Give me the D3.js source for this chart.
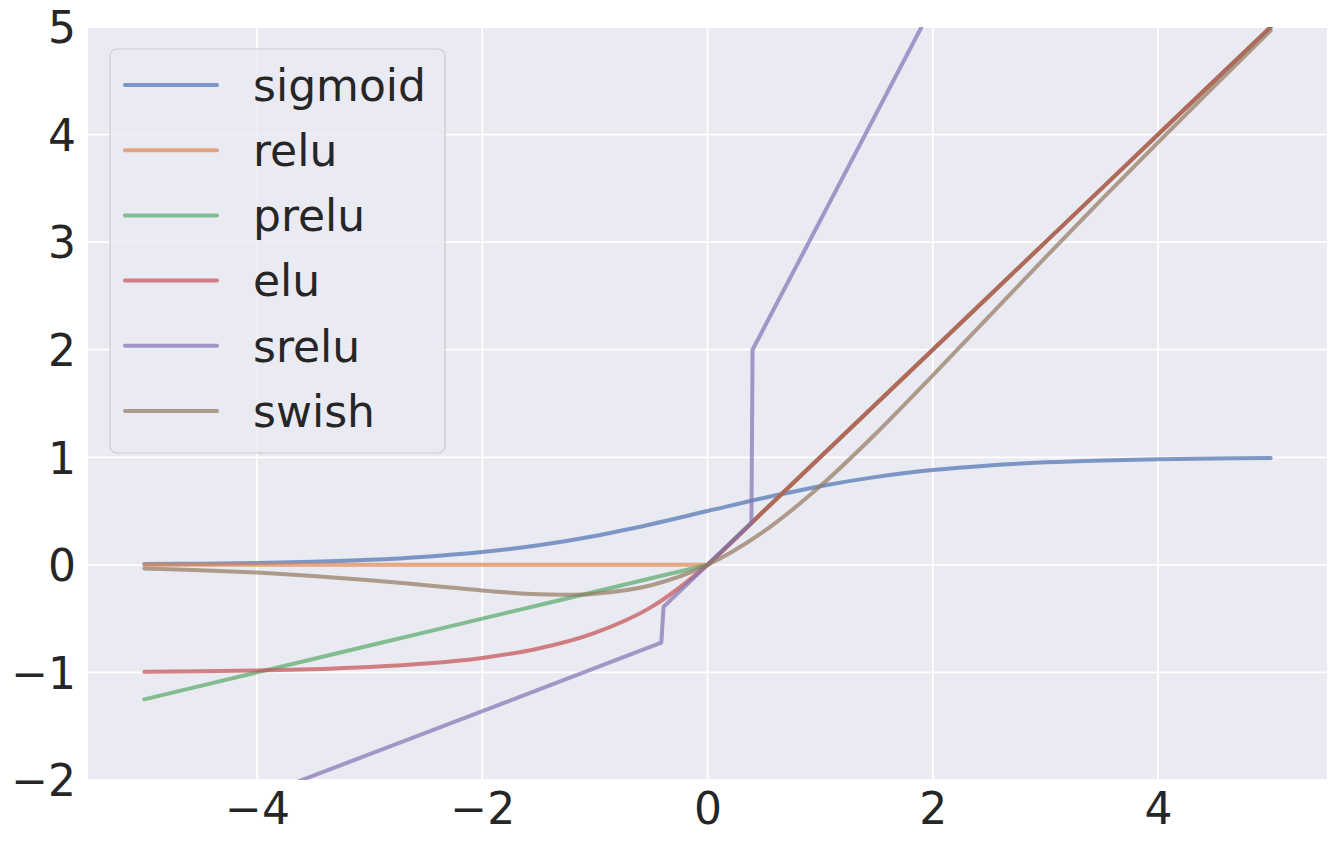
<!DOCTYPE html>
<html><head><meta charset="utf-8">
<script src="https://cdn.jsdelivr.net/npm/d3@7/dist/d3.min.js"></script>
<style>body{margin:0;background:#fff}svg{display:block}</style>
</head><body>
<svg id="c" width="1337" height="846"></svg>
<script>
const xs = [-5,-4.5,-4,-3.5,-3,-2.5,-2,-1.5,-1,-0.5,0,0.5,1,1.5,2,2.5,3,3.5,4,4.5,5];
const sigmoid = [0.007,0.011,0.018,0.029,0.047,0.076,0.119,0.182,0.269,0.378,0.5,0.622,0.731,0.818,0.881,0.924,0.953,0.971,0.982,0.989,0.993];
const relu = [0,0,0,0,0,0,0,0,0,0,0,0.5,1,1.5,2,2.5,3,3.5,4,4.5,5];
const prelu = [-1.25,-1.125,-1,-0.875,-0.75,-0.625,-0.5,-0.375,-0.25,-0.125,0,0.5,1,1.5,2,2.5,3,3.5,4,4.5,5];
const elu = [-0.993,-0.989,-0.982,-0.970,-0.950,-0.918,-0.865,-0.777,-0.632,-0.393,0,0.5,1,1.5,2,2.5,3,3.5,4,4.5,5];
const swishX = [-5,-4.5,-4,-3.5,-3,-2.5,-2,-1.5,-1.25,-1,-0.5,0,0.5,1,1.5,2,2.5,3,3.5,4,4.5,5];
const swish = [-0.033,-0.050,-0.072,-0.103,-0.142,-0.190,-0.238,-0.274,-0.278,-0.269,-0.189,0,0.311,0.731,1.226,1.762,2.310,2.858,3.397,3.928,4.450,4.967];
const sreluX = [-5,-0.41,-0.39,0.39,0.4,1.9,5];
const srelu = [-2.56,-0.724,-0.39,0.39,2.0,5.0,11.2];
const xTicks = [-4,-2,0,2,4];
const yTicks = [-2,-1,0,1,2,3,4,5];
const names = ["sigmoid","relu","prelu","elu","srelu","swish"];
const colors = ["#4C72B0","#DD8452","#55A868","#C44E52","#8172B3","#937860"];

const series = [
  {x: xs, y: sigmoid, curve: d3.curveCatmullRom},
  {x: xs, y: relu, curve: d3.curveLinear},
  {x: xs, y: prelu, curve: d3.curveLinear},
  {x: xs, y: elu, curve: d3.curveMonotoneX},
  {x: sreluX, y: srelu, curve: d3.curveLinear},
  {x: swishX, y: swish, curve: d3.curveCatmullRom}
];

const L = 88, R = 1327, T = 27, B = 780;
const svg = d3.select("#c");
const x = d3.scaleLinear().domain([-5.5, 5.5]).range([L, R]);
const y = d3.scaleLinear().domain([-2, 5]).range([B, T]);
const font = "'DejaVu Sans', sans-serif";

svg.append("rect").attr("x", L).attr("y", T).attr("width", R - L).attr("height", B - T).attr("fill", "#EAEAF2");
svg.append("clipPath").attr("id", "clip").append("rect").attr("x", L).attr("y", T).attr("width", R - L).attr("height", B - T);

// grid
const g = svg.append("g");
g.selectAll(".gx").data(xTicks).join("line").attr("x1", d => x(d)).attr("x2", d => x(d)).attr("y1", T).attr("y2", B)
  .attr("stroke", "#fff").attr("stroke-width", 1.8);
g.selectAll(".gy").data(yTicks).join("line").attr("y1", d => y(d)).attr("y2", d => y(d)).attr("x1", L).attr("x2", R)
  .attr("stroke", "#fff").attr("stroke-width", 1.8);

// axes labels via d3 axes
const fmt = d => (d < 0 ? "\u2212" + Math.abs(d) : "" + d);
const ax = svg.append("g").attr("transform", `translate(0,${B})`).call(d3.axisBottom(x).tickValues(xTicks).tickFormat(fmt).tickSize(0).tickPadding(13));
const ay = svg.append("g").attr("transform", `translate(${L},0)`).call(d3.axisLeft(y).tickValues(yTicks).tickFormat(fmt).tickSize(0).tickPadding(12));
[ax, ay].forEach(a => {
  a.select(".domain").remove();
  a.selectAll("text").attr("font-family", font).attr("font-size", 44).attr("fill", "#262626");
});
ax.selectAll("text").attr("dy", "0.71em");
ay.selectAll("text").attr("dy", "0.36em");

// lines
const plot = svg.append("g").attr("clip-path", "url(#clip)");
series.forEach((s, i) => {
  const pts = s.x.map((v, j) => [v, s.y[j]]);
  const line = d3.line().x(d => x(d[0])).y(d => y(d[1])).curve(s.curve);
  plot.append("path").attr("d", line(pts)).attr("fill", "none").attr("stroke", colors[i])
    .attr("stroke-opacity", 0.7).attr("stroke-width", 4).attr("stroke-linecap", "round").attr("stroke-linejoin", "round");
});

// legend
const lg = svg.append("g");
lg.append("rect").attr("x", 110).attr("y", 49).attr("width", 335).attr("height", 404).attr("rx", 7)
  .attr("fill", "#EAEAF2").attr("fill-opacity", 0.8).attr("stroke", "#cccccc").attr("stroke-width", 1.2);
names.forEach((n, i) => {
  const cy = 85 + i * 65.2;
  lg.append("line").attr("x1", 125).attr("x2", 217).attr("y1", cy).attr("y2", cy).attr("stroke", colors[i])
    .attr("stroke-opacity", 0.7).attr("stroke-width", 4).attr("stroke-linecap", "round");
  lg.append("text").attr("x", 253).attr("y", cy).attr("dy", "0.36em").text(n)
    .attr("font-family", font).attr("font-size", 44).attr("fill", "#262626");
});
</script>
</body></html>
